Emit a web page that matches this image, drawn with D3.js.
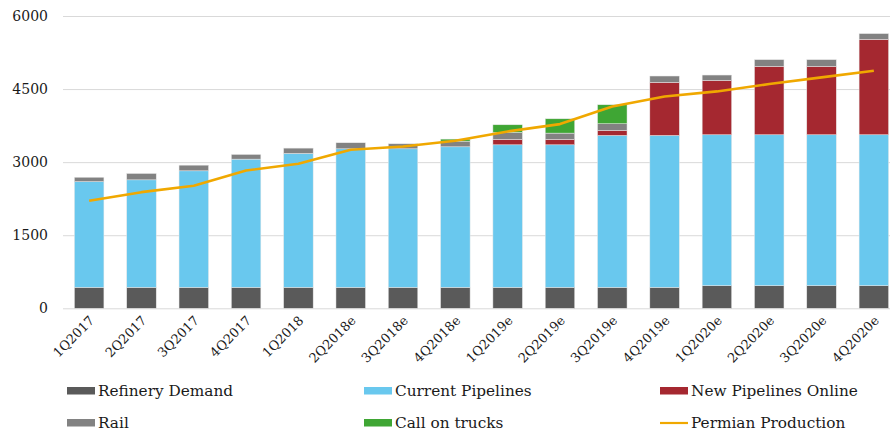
<!DOCTYPE html>
<html>
<head>
<meta charset="utf-8">
<script src="https://cdn.jsdelivr.net/npm/d3@7"></script>
<style>
  html, body { margin: 0; padding: 0; background: #fff; }
  svg { display: block; }
  text { font-family: "DejaVu Serif", "Liberation Serif", serif; fill: #1a1a1a; }
</style>
</head>
<body>
<svg id="chart" width="890" height="432"></svg>
<script>
// Permian crude takeaway by quarter (kb/d)
const quarters = ["1Q2017","2Q2017","3Q2017","4Q2017","1Q2018","2Q2018e","3Q2018e","4Q2018e",
                  "1Q2019e","2Q2019e","3Q2019e","4Q2019e","1Q2020e","2Q2020e","3Q2020e","4Q2020e"];
const refineryDemand   = [430,430,430,430,430,430,430,430,430,430,430,430,465,465,465,465];
const currentPipelines = [2170,2207,2392,2632,2749,2844,2844,2885,2926,2926,3118,3118,3097,3097,3097,3097];
const newPipelines     = [0,0,0,0,0,0,0,0,110,110,103,1090,1116,1404,1404,1959];
const rail             = [90,130,116,96,109,124,103,116,144,130,137,130,110,137,137,117];
const callOnTrucks     = [0,0,0,0,0,0,0,42,157,294,390,0,0,0,0,0];
const permianProduction = [2206,2384,2514,2829,2966,3254,3322,3438,3630,3781,4144,4349,4452,4603,4740,4877];
const yTicks = [0,1500,3000,4500,6000];

const seriesKeys   = ["Refinery Demand","Current Pipelines","New Pipelines Online","Rail","Call on trucks"];
const seriesValues = [refineryDemand, currentPipelines, newPipelines, rail, callOnTrucks];
const colors = {
  "Refinery Demand": "#5a5a5a",
  "Current Pipelines": "#69c8ee",
  "New Pipelines Online": "#a52830",
  "Rail": "#828282",
  "Call on trucks": "#3fa634",
  "Permian Production": "#f0a800"
};

const rows = quarters.map((q, i) => {
  const r = { quarter: q };
  seriesKeys.forEach((k, j) => r[k] = seriesValues[j][i]);
  return r;
});

const svg = d3.select("#chart");
const plotLeft = 63, plotRight = 900, plotTop = 16, plotBottom = 308.3;

const x = d3.scaleBand().domain(quarters).range([plotLeft, plotRight])
  .paddingInner(0.436).paddingOuter(0.218);
const y = d3.scaleLinear().domain([0, 6000]).range([plotBottom, plotTop]);

// horizontal gridlines
const yAxis = d3.axisLeft(y).tickValues(yTicks).tickFormat(d3.format("d"))
  .tickSize(-(890 - plotLeft)).tickPadding(15);
const gy = svg.append("g").attr("transform", `translate(${plotLeft},0)`).call(yAxis);
gy.select(".domain").remove();
gy.selectAll(".tick line").attr("stroke", "#d9d9d9").attr("stroke-width", 1);
gy.selectAll(".tick text").attr("font-size", 14).attr("fill", "#1a1a1a")
  .style("font-family", "DejaVu Serif, serif");

// stacked bars
const stacked = d3.stack().keys(seriesKeys)(rows);
svg.append("g").selectAll("g").data(stacked).join("g")
  .attr("fill", d => colors[d.key])
  .selectAll("rect").data(d => d).join("rect")
  .attr("x", d => x(d.data.quarter))
  .attr("width", x.bandwidth())
  .attr("y", d => y(d[1]))
  .attr("height", d => Math.max(0, y(d[0]) - y(d[1])))
  .attr("stroke", "#e8e8e8").attr("stroke-width", 0.5);

// production line
const line = d3.line()
  .x((d, i) => x(quarters[i]) + x.bandwidth() / 2)
  .y(d => y(d));
svg.append("path").datum(permianProduction)
  .attr("d", line).attr("fill", "none")
  .attr("stroke", colors["Permian Production"]).attr("stroke-width", 2.6)
  .attr("stroke-linejoin", "round");

// x axis labels
const xAxis = d3.axisBottom(x).tickSize(0).tickPadding(0);
const gx = svg.append("g").attr("transform", `translate(0,${plotBottom})`).call(xAxis);
gx.select(".domain").remove();
gx.selectAll(".tick text")
  .attr("font-size", 13).attr("fill", "#1a1a1a")
  .style("font-family", "DejaVu Serif, serif")
  .attr("text-anchor", "end")
  .attr("dy", 0)
  .attr("transform", "translate(6,13) rotate(-45)");

// legend
const legendItems = [
  { key: "Refinery Demand", x: 67, y: 391, type: "rect" },
  { key: "Current Pipelines", x: 364, y: 391, type: "rect" },
  { key: "New Pipelines Online", x: 660, y: 391, type: "rect" },
  { key: "Rail", x: 67, y: 423, type: "rect" },
  { key: "Call on trucks", x: 364, y: 423, type: "rect" },
  { key: "Permian Production", x: 660, y: 423, type: "line" }
];
const lg = svg.append("g").selectAll("g").data(legendItems).join("g")
  .attr("transform", d => `translate(${d.x},${d.y})`);
lg.filter(d => d.type === "rect").append("rect")
  .attr("x", 0).attr("y", -4).attr("width", 28).attr("height", 7.5)
  .attr("fill", d => colors[d.key]);
lg.filter(d => d.type === "line").append("line")
  .attr("x1", 0).attr("x2", 28).attr("y1", 0).attr("y2", 0)
  .attr("stroke", d => colors[d.key]).attr("stroke-width", 2.2);
lg.append("text").attr("x", 31).attr("y", 0).attr("dy", "0.35em")
  .attr("font-size", 15.3).text(d => d.key);
</script>
</body>
</html>
